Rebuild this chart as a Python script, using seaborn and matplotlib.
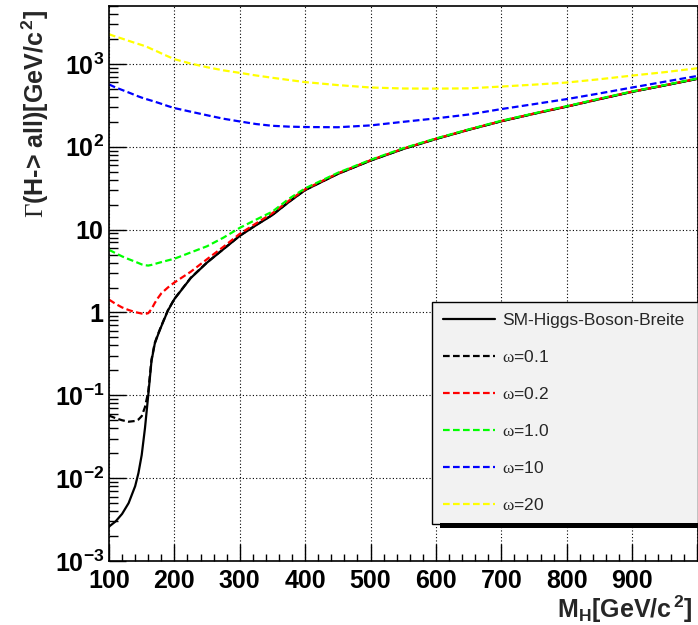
import matplotlib
matplotlib.use("Agg")
import matplotlib.pyplot as plt
import seaborn as sns
import pandas as pd
from matplotlib.ticker import FixedLocator, LogLocator, NullFormatter, MultipleLocator
from matplotlib.patches import Rectangle

# Higgs mass grid [GeV/c^2]
mass = [100, 110, 120, 130, 140, 145, 150, 155, 160, 165, 170, 175, 180, 190, 200,
        225, 250, 275, 300, 325, 350, 375, 400, 450, 500, 550, 600, 650, 700, 750,
        800, 850, 900, 950, 1000]

# Total width Gamma(H -> all) [GeV/c^2]
gamma_sm = [0.0026, 0.0030, 0.0037, 0.0050, 0.0080, 0.0115, 0.019, 0.040, 0.10, 0.26,
            0.42, 0.54, 0.68, 1.05, 1.45, 2.6, 4.0, 5.8, 8.4, 11.3, 15.0, 21.5, 30.0,
            47.0, 68.0, 94.0, 124.0, 160.0, 203.0, 250.0, 305.0, 375.0, 460.0, 550.0, 660.0]
gamma_w01 = [0.057, 0.053, 0.050, 0.048, 0.049, 0.051, 0.056, 0.072, 0.11, 0.27,
             0.43, 0.55, 0.69, 1.06, 1.46, 2.62, 4.02, 5.83, 8.45, 11.4, 15.1, 21.6, 30.1,
             47.2, 68.2, 94.3, 124.4, 160.5, 203.6, 250.7, 305.8, 376.0, 461.0, 551.0, 661.0]
gamma_w02 = [1.43, 1.27, 1.15, 1.07, 1.01, 0.99, 0.97, 0.96, 0.98, 1.10,
             1.30, 1.50, 1.70, 2.0, 2.3, 3.1, 4.4, 6.2, 8.9, 11.9, 15.8, 22.3, 30.7,
             47.8, 68.8, 94.9, 125.0, 161.0, 204.5, 252.0, 307.0, 378.0, 463.0, 553.0, 663.0]
gamma_w1 = [5.7, 5.2, 4.75, 4.4, 4.1, 3.95, 3.8, 3.72, 3.68, 3.75,
            3.85, 3.95, 4.05, 4.25, 4.45, 5.3, 6.3, 8.0, 10.5, 13.2, 16.5, 23.5, 31.5,
            48.5, 69.5, 96.0, 126.0, 162.0, 206.0, 253.0, 309.0, 380.0, 465.0, 556.0, 667.0]
gamma_w10 = [565, 520, 485, 452, 420, 405, 392, 380, 370, 360,
             350, 340, 330, 310, 293, 265, 240, 218, 202, 188, 179, 175, 173,
             172, 181, 200, 220, 245, 285, 327, 376, 440, 519, 610, 716]
gamma_w20 = [2280, 2140, 2020, 1900, 1790, 1740, 1690, 1640, 1580, 1515,
             1455, 1400, 1340, 1235, 1140, 1010, 912, 836, 780, 725, 680, 640, 603,
             555, 519, 505, 503, 507, 533, 562, 596, 653, 723, 795, 887]

curve_labels = ["SM-Higgs-Boson-Breite", r"$\mathcal{\omega}$=0.1", r"$\mathcal{\omega}$=0.2",
                r"$\mathcal{\omega}$=1.0", r"$\mathcal{\omega}$=10", r"$\mathcal{\omega}$=20"]
curve_values = [gamma_sm, gamma_w01, gamma_w02, gamma_w1, gamma_w10, gamma_w20]
curve_colors = ["#000000", "#000000", "#ff0000", "#00ff00", "#0000ff", "#ffff00"]
curve_styles = ["-", (0, (3, 1.5)), (0, (3, 1.5)), (0, (3, 1.5)), (0, (3, 1.5)), (0, (3, 1.5))]

x_tick_values = [100, 200, 300, 400, 500, 600, 700, 800, 900, 1000]
x_tick_labels = ["100", "200", "300", "400", "500", "600", "700", "800", "900", ""]
y_tick_values = [1e-3, 1e-2, 1e-1, 1, 10, 1e2, 1e3]
y_tick_labels = [r"$\mathbf{10^{-3}}$", r"$\mathbf{10^{-2}}$", r"$\mathbf{10^{-1}}$",
                 r"$\mathbf{1}\enspace$", r"$\mathbf{10}\enspace$",
                 r"$\mathbf{10^{2}}$", r"$\mathbf{10^{3}}$"]

sns.set_theme(style="ticks")
plt.rcParams.update({
    "font.family": ["Liberation Sans", "DejaVu Sans"],
    "mathtext.fontset": "custom",
    "mathtext.rm": "Liberation Sans",
    "mathtext.bf": "Liberation Sans:bold",
    "mathtext.it": "Liberation Sans:italic",
    "mathtext.cal": "Liberation Serif",
    "axes.edgecolor": "black",
    "xtick.color": "black",
    "ytick.color": "black",
})

W, H = 698, 625
fig = plt.figure(figsize=(W / 100, H / 100), dpi=100)
fig.patch.set_facecolor("white")
ax = fig.add_axes([109 / W, 64 / H, (697.5 - 109) / W, 555 / H])
ax.set_facecolor("white")

frames = []
for lab, vals in zip(curve_labels, curve_values):
    frames.append(pd.DataFrame({"mass": mass, "width": vals, "curve": lab}))
df = pd.concat(frames, ignore_index=True)

for lab, col, ls in zip(curve_labels, curve_colors, curve_styles):
    sub = df[df["curve"] == lab]
    sns.lineplot(data=sub, x="mass", y="width", ax=ax, color=col, linestyle=ls,
                 linewidth=1.6, label=lab, estimator=None, sort=False)

ax.set_yscale("log")
ax.set_xlim(100, 1000)
ax.set_ylim(1e-3, 5e3)

ax.set_xticks(x_tick_values, x_tick_labels, fontsize=18, fontweight="bold")
ax.xaxis.set_minor_locator(MultipleLocator(20))
ax.yaxis.set_major_locator(FixedLocator(y_tick_values))
ax.set_yticks(y_tick_values, y_tick_labels, fontsize=18)
ax.yaxis.set_minor_locator(LogLocator(base=10, subs=[2, 3, 4, 5, 6, 7, 8, 9], numticks=20))
ax.yaxis.set_minor_formatter(NullFormatter())

ax.tick_params(axis="x", which="major", direction="in", length=12, width=1, pad=5.5,
               bottom=True, top=False)
ax.tick_params(axis="x", which="minor", direction="in", length=5, width=1,
               bottom=True, top=False)
ax.tick_params(axis="y", which="major", direction="in", length=12, width=1, pad=3.5,
               left=True, right=False)
ax.tick_params(axis="y", which="minor", direction="in", length=6.5, width=1,
               left=True, right=False)

ax.grid(True, which="major", color="black", linestyle=(0, (1, 2)), linewidth=0.8)
for sp in ax.spines.values():
    sp.set_visible(True)
    sp.set_color("black")
    sp.set_linewidth(1.2)

ax.set_xlabel(r"M$_{\mathbf{H}}$[GeV/c$^{\,\mathbf{2}}$]", fontsize=18,
              fontweight="bold", ha="right", va="center")
ax.xaxis.set_label_coords(1.0 - 5 / 588.5, -48 / 555)
ax.set_ylabel(r"$\mathcal{\Gamma}$(H-> all)[GeV/c$^{\,\mathbf{2}}$]", fontsize=18,
              fontweight="bold", ha="right", va="center")
ax.yaxis.set_label_coords(-74 / 588.5, 1.0 - 4 / 555)

leg = ax.legend(loc="upper left",
                bbox_to_anchor=(432 / W, 1 - 302 / H, (697.5 - 432) / W, 0.0),
                bbox_transform=fig.transFigure, mode="expand", borderaxespad=0,
                frameon=True, fancybox=False, framealpha=1, facecolor="#f2f2f2",
                edgecolor="black", fontsize=12.5, handlelength=3.0,
                handletextpad=0.4, labelspacing=1.2, borderpad=0.65)
leg.get_frame().set_linewidth(1.0)

# drop shadow under the legend box
fig.add_artist(Rectangle((440 / W, 1 - 528 / H), 1 - 440 / W, 5 / H,
                         transform=fig.transFigure, facecolor="black",
                         edgecolor="none", zorder=3))

fig.savefig("out.png", dpi=100)
